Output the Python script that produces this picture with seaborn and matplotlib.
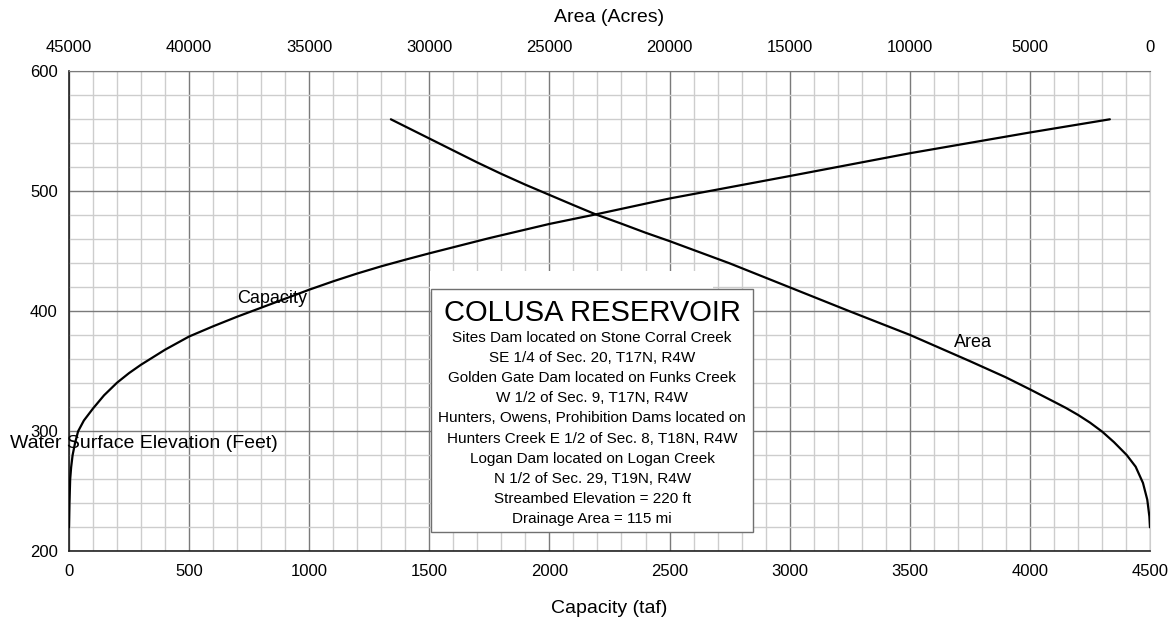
import matplotlib
matplotlib.use("Agg")
import matplotlib.pyplot as plt
from matplotlib.ticker import MultipleLocator
from matplotlib.patches import Rectangle
import seaborn as sns
import pandas as pd

# Capacity curve (taf) vs water surface elevation (ft)
capacity_taf = [0, 1, 2, 5, 9, 15, 25, 38, 62, 100, 146, 200, 250, 300, 400, 500, 600, 700, 800,
                900, 1000, 1100, 1200, 1300, 1400, 1500, 1750, 2000, 2194, 2500, 3000, 3500,
                4000, 4333]
capacity_elev = [220, 230, 240, 260, 270, 280, 290, 300, 309, 319, 330, 340.5, 348.5, 355.5, 368,
                 379, 387.5, 395.5, 403, 410.5, 418, 425, 431.5, 437.5, 443, 448.3, 461,
                 472.8, 480.8, 494, 512.7, 531.7, 549, 560]

# Area curve (acres) vs water surface elevation (ft)
area_acres = [0, 25, 112, 292, 596, 971, 1500, 1988, 2500, 2988, 3500, 4000, 5000, 6000, 7500,
              10000, 12500, 15000, 17500, 20000, 21000, 22000, 23100, 24000, 25000, 26000,
              27000, 28000, 29000, 30000, 31600]
area_elev = [220, 229, 243, 257, 270.5, 280.3, 291, 299.7, 307.3, 313.6, 319.5, 324.7, 335, 345,
             358.5, 380.4, 400, 420, 440, 458.5, 465.5, 473, 481, 488.5, 497, 505.5,
             514.5, 524, 534, 544, 560]

x_ticks = [0, 500, 1000, 1500, 2000, 2500, 3000, 3500, 4000, 4500]
top_ticks = [45000, 40000, 35000, 30000, 25000, 20000, 15000, 10000, 5000, 0]
y_ticks = [200, 300, 400, 500, 600]

box_title = "COLUSA RESERVOIR"
box_lines = [
    "Sites Dam located on Stone Corral Creek",
    "SE 1/4 of Sec. 20, T17N, R4W",
    "Golden Gate Dam located on Funks Creek",
    "W 1/2 of Sec. 9, T17N, R4W",
    "Hunters, Owens, Prohibition Dams located on",
    "Hunters Creek E 1/2 of Sec. 8, T18N, R4W",
    "Logan Dam located on Logan Creek",
    "N 1/2 of Sec. 29, T19N, R4W",
    "Streambed Elevation = 220 ft",
    "Drainage Area = 115 mi",
]

sns.set_style("white")
plt.rcParams['font.family'] = ['Liberation Sans', 'DejaVu Sans']
plt.rcParams['text.color'] = 'black'
plt.rcParams['axes.labelcolor'] = 'black'
plt.rcParams['xtick.color'] = 'black'
plt.rcParams['ytick.color'] = 'black'

cap_df = pd.DataFrame({"cap": capacity_taf, "elev": capacity_elev})
area_df = pd.DataFrame({"area": area_acres, "elev": area_elev})

fig = plt.figure(figsize=(11.75, 6.21), dpi=100)
ax = fig.add_axes([0.0587, 0.1122, 0.92, 0.773])

ax.set_xlim(0, 4500)
ax.set_ylim(200, 600)
ax.xaxis.set_minor_locator(MultipleLocator(100))
ax.yaxis.set_minor_locator(MultipleLocator(20))
ax.set_xticks(x_ticks)
ax.set_yticks(y_ticks)
ax.grid(which='minor', color='#cdcdcd', linewidth=1.0, zorder=0)
ax.grid(which='major', color='#7a7a7a', linewidth=1.0, zorder=0)
ax.set_axisbelow(True)
ax.tick_params(which='both', length=0)
ax.tick_params(axis='x', pad=9, labelsize=12)
ax.tick_params(axis='y', pad=8, labelsize=12)
for s in ['left', 'bottom']:
    ax.spines[s].set_color('#222222')
    ax.spines[s].set_linewidth(1.2)
ax.spines['top'].set_color('#7a7a7a')
ax.spines['right'].set_color('#cdcdcd')

sns.lineplot(data=cap_df, x="cap", y="elev", ax=ax, color='black', linewidth=1.6,
             estimator=None, sort=False, zorder=3)
ax.set_xlabel("Capacity (taf)", fontsize=14, labelpad=15)
ax.set_ylabel("")

ax2 = ax.twiny()
ax2.set_xlim(45000, 0)
ax2.set_xticks(top_ticks)
ax2.tick_params(which='both', length=0, pad=12, labelsize=12)
for s in ax2.spines.values():
    s.set_visible(False)
sns.lineplot(data=area_df, x="area", y="elev", ax=ax2, color='black', linewidth=1.6,
             estimator=None, sort=False, zorder=3)
ax2.set_xlim(45000, 0)
ax2.set_ylim(200, 600)
ax2.set_xlabel("Area (Acres)", fontsize=14, labelpad=13)
ax2.set_ylabel("")
ax2.grid(False)

fig.text(10 / 1175, 1 - 443 / 621, "Water Surface Elevation (Feet)", fontsize=14,
         ha='left', va='center')

ax2.text(846, 411, "Capacity", transform=ax.transData, fontsize=13, ha='center', va='center', zorder=4)
ax2.text(3762, 374, "Area", transform=ax.transData, fontsize=13, ha='center', va='center', zorder=4)

# info box
ax2.add_patch(Rectangle((0.334, 0.54), 0.262, 0.045, transform=ax.transAxes,
                        facecolor='white', edgecolor='none', zorder=5))
ax2.add_patch(Rectangle((0.3349, 0.0408), 0.2981, 0.5057, transform=ax.transAxes,
                        facecolor='white', edgecolor='#707070', linewidth=1.0, zorder=6))
bx = (0.3349 + 0.6330) / 2
ax2.text(bx, (551.3 - 313) / 480, box_title, transform=ax.transAxes, fontsize=21,
         ha='center', va='center', zorder=7)
for i, line in enumerate(box_lines):
    ypix = 338 + i * 20.1
    ax2.text(bx, (551.3 - ypix) / 480, line, transform=ax.transAxes, fontsize=11,
             ha='center', va='center', zorder=7)

fig.savefig("out.png", dpi=100)
